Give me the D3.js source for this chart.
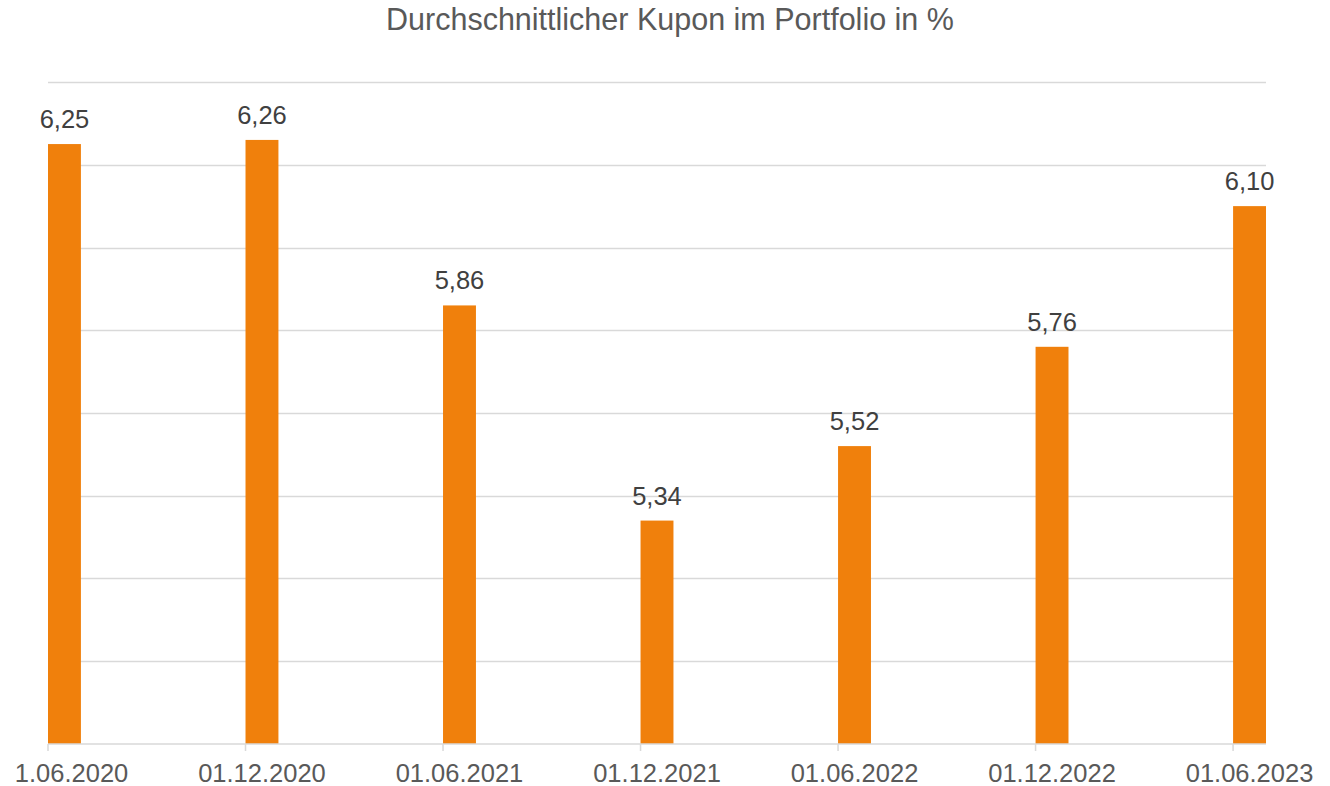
<!DOCTYPE html>
<html><head><meta charset="utf-8">
<script src="https://cdn.jsdelivr.net/npm/d3@7"></script>
<style>body{margin:0;background:#fff}svg{display:block}text{font-family:"Liberation Sans",Arial,sans-serif}</style>
</head><body>
<svg id="c" width="1330" height="786"></svg>
<script>
const title = "Durchschnittlicher Kupon im Portfolio in %";
const dates = ["01.06.2020","01.12.2020","01.06.2021","01.12.2021","01.06.2022","01.12.2022","01.06.2023"];
const monthIndex = [0, 6, 12, 18, 24, 30, 36];
const values = [6.25, 6.26, 5.86, 5.34, 5.52, 5.76, 6.10];
const yTicks = [4.8, 5.0, 5.2, 5.4, 5.6, 5.8, 6.0, 6.2, 6.4];

const svg = d3.select("#c");
const x = d3.scaleLinear().domain([0, 37]).range([48, 1266]);
const y = d3.scaleLinear().domain([4.8, 6.4]).range([744, 82]);

svg.append("text").attr("x", 670).attr("y", 30).attr("text-anchor", "middle")
  .attr("font-size", 30.5).attr("fill", "#595959").text(title);

svg.append("g").selectAll("line").data(yTicks.slice(1)).join("line")
  .attr("x1", 48).attr("x2", 1266).attr("y1", d => Math.round(y(d)) + 0.5).attr("y2", d => Math.round(y(d)) + 0.5)
  .attr("stroke", "#d9d9d9").attr("stroke-width", 1.5);

const bw = x(1) - x(0);
svg.append("g").selectAll("rect").data(values).join("rect")
  .attr("x", (d, i) => x(monthIndex[i])).attr("width", bw)
  .attr("y", d => y(d)).attr("height", d => y(4.8) - y(d))
  .attr("fill", "#f0800c");

// axis
svg.append("line").attr("x1", 48).attr("x2", 1266).attr("y1", 744).attr("y2", 744)
  .attr("stroke", "#d9d9d9").attr("stroke-width", 1.5);
svg.append("g").selectAll("line").data(monthIndex).join("line")
  .attr("x1", d => x(d)).attr("x2", d => x(d)).attr("y1", 744).attr("y2", 751)
  .attr("stroke", "#d9d9d9").attr("stroke-width", 1.5);

svg.append("defs").append("clipPath").attr("id", "clipL").append("rect")
  .attr("x", 15).attr("y", 0).attr("width", 1315).attr("height", 786);
svg.append("g").attr("clip-path", "url(#clipL)").selectAll("text").data(dates).join("text")
  .attr("x", (d, i) => x(monthIndex[i] + 0.5)).attr("y", 782)
  .attr("text-anchor", "middle").attr("font-size", 25.5).attr("fill", "#595959").text(d => d);

svg.append("g").selectAll("text").data(values).join("text")
  .attr("x", (d, i) => x(monthIndex[i] + 0.5)).attr("y", d => y(d) - 16)
  .attr("text-anchor", "middle").attr("font-size", 25.5).attr("fill", "#404040")
  .text(d => d.toFixed(2).replace(".", ","));
</script>
</body></html>
